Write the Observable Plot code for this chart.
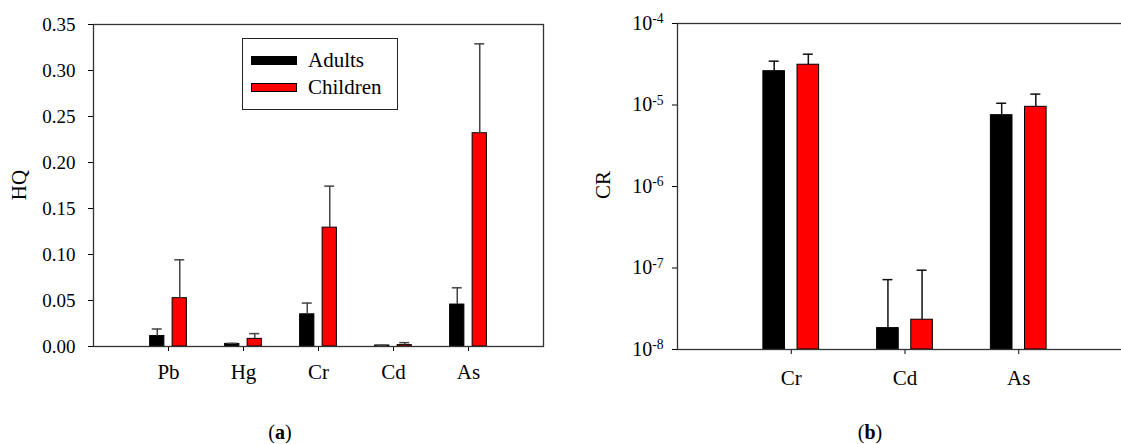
<!DOCTYPE html>
<html>
<head>
<meta charset="utf-8">
<script src="https://cdn.jsdelivr.net/npm/d3@7"></script>
<script src="https://cdn.jsdelivr.net/npm/@observablehq/plot@0.6"></script>
<style>
  html, body { margin: 0; padding: 0; background: #fff; overflow: hidden; }
  #root { position: relative; width: 1121px; height: 444px; overflow: hidden; font-family: "Liberation Serif", serif; color: #000; }
  .panel { position: absolute; top: 0; }
  .ytitle { position: absolute; font-size: 21px; transform: translate(-50%, -50%) rotate(-90deg); white-space: nowrap; }
  .caption { position: absolute; font-size: 20px; transform: translateX(-50%); white-space: nowrap; }
  .legend { position: absolute; left: 242px; top: 38px; width: 156px; height: 72px; border: 1.5px solid #222; box-sizing: border-box; background: #fff; font-family: "Liberation Serif", serif; }
  .legend .row { position: absolute; left: 8px; display: flex; align-items: center; font-size: 21px; line-height: 1; }
  .legend .sw { width: 46px; height: 9px; border: 1px solid #000; margin-right: 11px; box-sizing: border-box; }
</style>
</head>
<body>
<div id="root"></div>
<script>
// ---- Data: panel (a) Hazard Quotient ----
const hqElements = ["Pb", "Hg", "Cr", "Cd", "As"];
const hqAdults = [0.0114, 0.0028, 0.0350, 0.0011, 0.0456];
const hqAdultsErrTop = [0.0190, 0.0034, 0.0472, 0.0013, 0.0638];
const hqChildren = [0.0525, 0.0083, 0.1292, 0.0015, 0.2318];
const hqChildrenErrTop = [0.0942, 0.0140, 0.1743, 0.0042, 0.3290];
const hqTicks = [0, 0.05, 0.10, 0.15, 0.20, 0.25, 0.30, 0.35];

// ---- Data: panel (b) Carcinogenic Risk ----
const crElements = ["Cr", "Cd", "As"];
const crAdults = [2.60e-5, 1.83e-8, 7.5e-6];
const crAdultsErrTop = [3.45e-5, 7.2e-8, 1.05e-5];
const crChildren = [3.12e-5, 2.32e-8, 9.5e-6];
const crChildrenErrTop = [4.2e-5, 9.4e-8, 1.36e-5];
const crTicks = [1e-8, 1e-7, 1e-6, 1e-5, 1e-4];

const groups = ["Adults", "Children"];
const groupColors = ["#000000", "#ff0000"];

// layout of the grouped bars (in category units)
const barOuter = 0.245, barInner = 0.055;

function rows(elements, adults, adultsErr, children, childrenErr) {
  const out = [];
  elements.forEach((el, i) => {
    const pos = i + 1;
    out.push({el, group: "Adults", pos, x1: pos - barOuter, x2: pos - barInner, c: pos - (barOuter + barInner) / 2, v: adults[i], e: adultsErr[i]});
    out.push({el, group: "Children", pos, x1: pos + barInner, x2: pos + barOuter, c: pos + (barOuter + barInner) / 2, v: children[i], e: childrenErr[i]});
  });
  return out;
}

const hqData = rows(hqElements, hqAdults, hqAdultsErrTop, hqChildren, hqChildrenErrTop);
const crData = rows(crElements, crAdults, crAdultsErrTop, crChildren, crChildrenErrTop);

const root = document.getElementById("root");
const baseStyle = "font-family: 'Liberation Serif', serif; font-size: 19px; color: #000; background: transparent; overflow: visible;";

function enlargeXLabels(chart) {
  d3.select(chart).selectAll('g[aria-label="x-axis tick label"]').style("font-size", "21px");
}

// ---------- Panel (a) ----------
{
  const W = 560, H = 400, mL = 93, mR = 17, mT = 24, mB = 54;
  const xDomain = [0, hqElements.length + 1];
  const unitPx = (W - mL - mR) / (xDomain[1] - xDomain[0]);
  const capHalf = 5 / unitPx;
  const chart = Plot.plot({
    width: W, height: H,
    marginLeft: mL, marginRight: mR, marginTop: mT, marginBottom: mB,
    style: baseStyle,
    x: {domain: xDomain, ticks: hqElements.map((d, i) => i + 1), tickFormat: i => hqElements[i - 1], tickSize: 5, tickPadding: 13, label: null},
    y: {domain: [0, 0.35], ticks: hqTicks, tickFormat: d3.format(".2f"), tickSize: 5, tickPadding: 13, label: null},
    color: {domain: groups, range: groupColors},
    marks: [
      Plot.rect(hqData, {x1: "x1", x2: "x2", y1: 0, y2: "v", fill: "group", stroke: "#000", strokeWidth: 1}),
      Plot.ruleX(hqData, {x: "c", y1: "v", y2: "e", stroke: "#444", strokeWidth: 1.5}),
      Plot.ruleY(hqData, {y: "e", x1: d => d.c - capHalf, x2: d => d.c + capHalf, stroke: "#444", strokeWidth: 1.5}),
      Plot.frame({stroke: "#333", strokeWidth: 1.3})
    ]
  });
  enlargeXLabels(chart);
  chart.classList.add("panel");
  chart.style.left = "0px";
  root.appendChild(chart);
}

// ---------- Panel (b) ----------
{
  const W = 580, H = 400, mL = 117, mR = 8, mT = 23, mB = 51;
  const xDomain = [0, crElements.length + 1];
  const unitPx = (W - mL - mR) / (xDomain[1] - xDomain[0]);
  const capHalf = 5 / unitPx;
  const chart = Plot.plot({
    width: W, height: H,
    marginLeft: mL, marginRight: mR, marginTop: mT, marginBottom: mB,
    style: baseStyle,
    x: {domain: xDomain, ticks: crElements.map((d, i) => i + 1), tickFormat: i => crElements[i - 1], tickSize: 5, tickPadding: 16, label: null},
    y: {type: "log", domain: [crTicks[0], crTicks[crTicks.length - 1]], ticks: crTicks, tickFormat: d => String(Math.round(Math.log10(d))), tickSize: 5, tickPadding: 9, label: null},
    color: {domain: groups, range: groupColors},
    marks: [
      Plot.rect(crData, {x1: "x1", x2: "x2", y1: crTicks[0], y2: "v", fill: "group", stroke: "#000", strokeWidth: 1}),
      Plot.ruleX(crData, {x: "c", y1: "v", y2: "e", stroke: "#111", strokeWidth: 1.5}),
      Plot.ruleY(crData, {y: "e", x1: d => d.c - capHalf, x2: d => d.c + capHalf, stroke: "#111", strokeWidth: 1.5}),
      Plot.frame({stroke: "#333", strokeWidth: 1.3})
    ]
  });
  enlargeXLabels(chart);
  // power-of-ten labels: 10 with superscript exponent
  d3.select(chart).selectAll('g[aria-label="y-axis tick label"]').style("font-size", "20px");
  d3.select(chart).selectAll('g[aria-label="y-axis tick label"] text').each(function() {
    const exp = this.textContent;
    const t = d3.select(this);
    t.text(null);
    t.append("tspan").text("10");
    t.append("tspan").attr("dy", "-0.5em").attr("font-size", "0.68em").text(exp);
  });
  chart.classList.add("panel");
  chart.style.left = "560px";
  root.appendChild(chart);
}

// ---------- Axis titles, captions, legend ----------
function addDiv(cls, html, left, top) {
  const d = document.createElement("div");
  d.className = cls;
  d.innerHTML = html;
  d.style.left = left + "px";
  d.style.top = top + "px";
  root.appendChild(d);
  return d;
}
addDiv("ytitle", "HQ", 19, 185);
addDiv("ytitle", "CR", 603, 185);
addDiv("caption", "(<b>a</b>)", 280, 421);
addDiv("caption", "(<b>b</b>)", 870, 421);

const legend = document.createElement("div");
legend.className = "legend";
groups.forEach((g, i) => {
  const row = document.createElement("div");
  row.className = "row";
  row.style.top = (i === 0 ? 11 : 38) + "px";
  row.innerHTML = `<span class="sw" style="background:${groupColors[i]}"></span><span>${g}</span>`;
  legend.appendChild(row);
});
root.appendChild(legend);
</script>
</body>
</html>
